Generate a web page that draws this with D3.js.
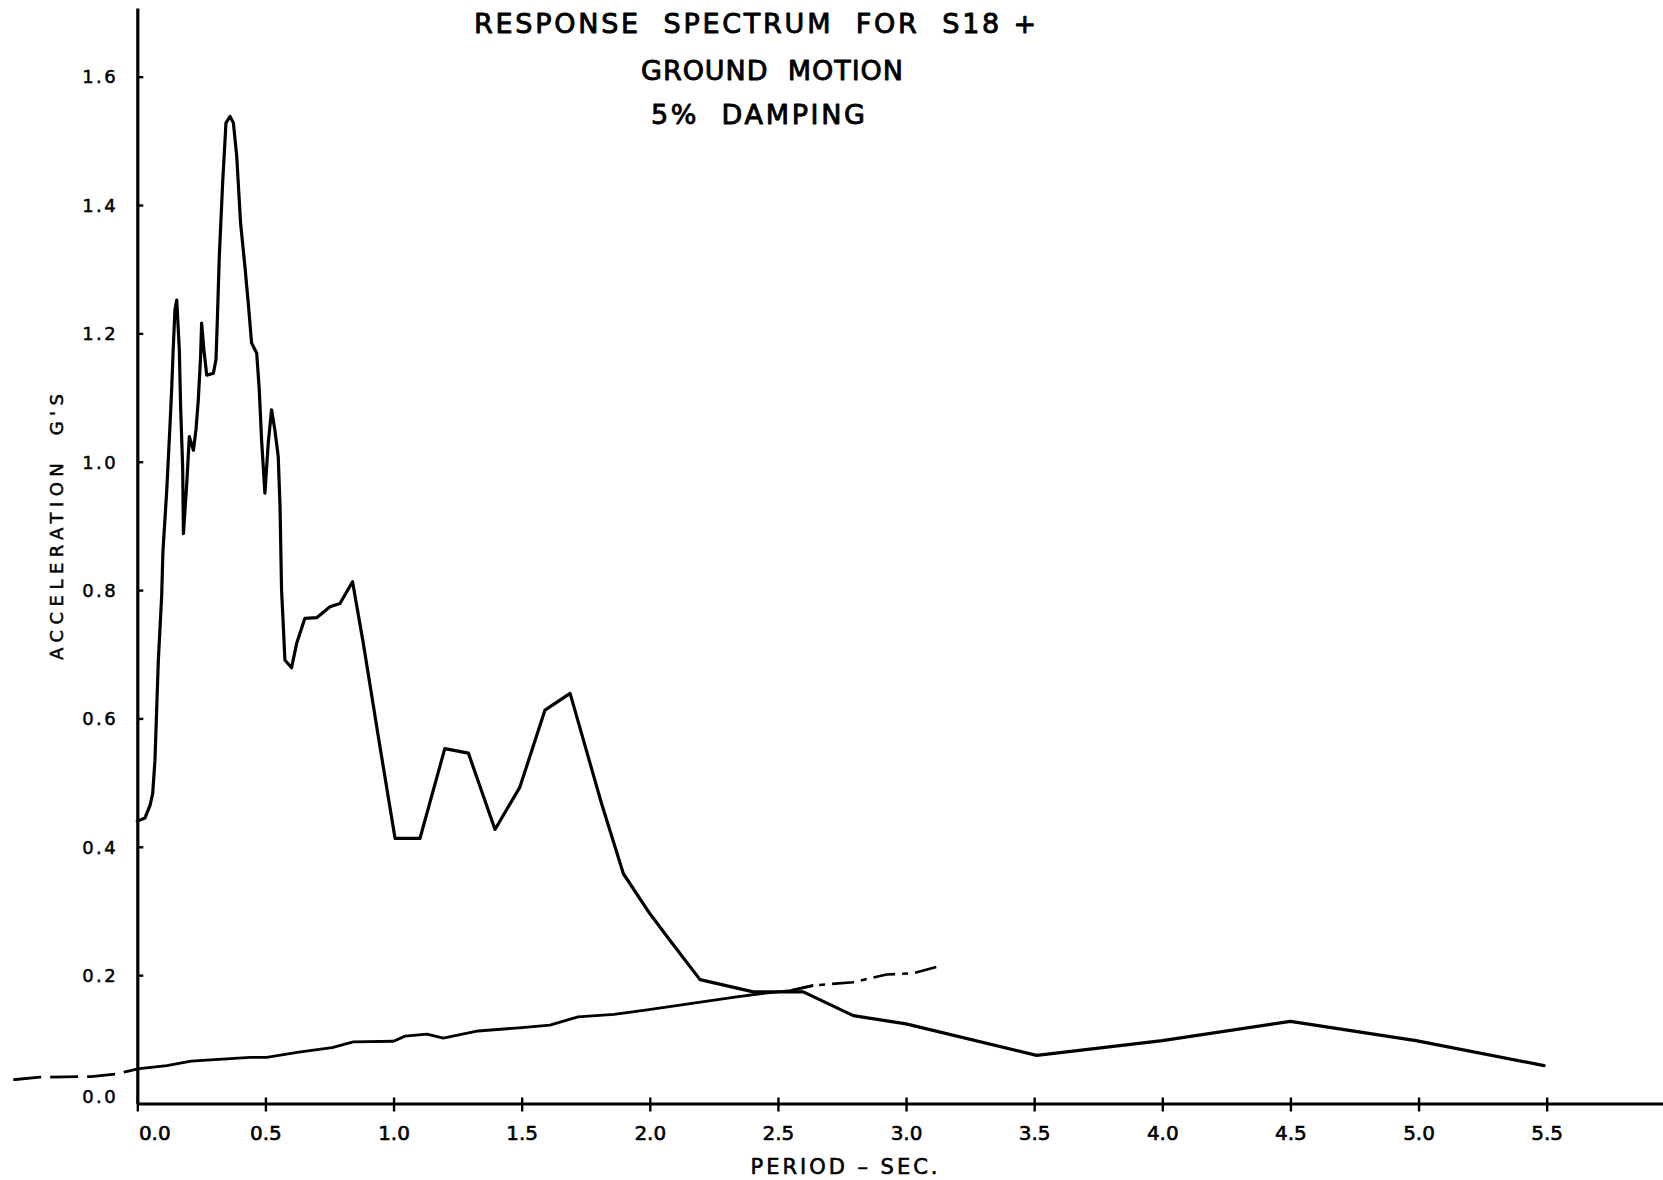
<!DOCTYPE html>
<html>
<head>
<meta charset="utf-8">
<script src="https://cdn.jsdelivr.net/npm/d3@7"></script>
<style>
  html, body { margin: 0; padding: 0; background: #fff; }
  svg { display: block; }
  text { font-family: "DejaVu Sans", "Liberation Sans", sans-serif; fill: #000; white-space: pre; }
</style>
</head>
<body>
<svg id="chart" width="1663" height="1180"></svg>
<script>
// Titles and axis captions
const titleLines = ["RESPONSE  SPECTRUM  FOR  S18 +", "GROUND  MOTION", "5%  DAMPING"];
const xAxisTitle = "PERIOD \u2013 SEC.";
const yAxisTitle = "ACCELERATION  G'S";

// Tick values and their printed labels
const xTickValues = [0, 0.5, 1.0, 1.5, 2.0, 2.5, 3.0, 3.5, 4.0, 4.5, 5.0, 5.5];
const xTickLabels = ["0.0", "0.5", "1.0", "1.5", "2.0", "2.5", "3.0", "3.5", "4.0", "4.5", "5.0", "5.5"];
const yTickValues = [0, 0.2, 0.4, 0.6, 0.8, 1.0, 1.2, 1.4, 1.6];
const yTickLabels = ["0.0", "0.2", "0.4", "0.6", "0.8", "1.0", "1.2", "1.4", "1.6"];

// Response spectrum, 5% damping: period (sec) and spectral acceleration (g)
const spectrumPeriod = [0.00, 0.03, 0.05, 0.06, 0.069, 0.082, 0.095, 0.10, 0.115, 0.128, 0.134, 0.14, 0.147, 0.154,
  0.164, 0.169, 0.177, 0.18, 0.193, 0.203, 0.219, 0.229, 0.238, 0.247, 0.251, 0.26, 0.271, 0.297, 0.307, 0.312,
  0.32, 0.333, 0.346, 0.362, 0.375, 0.388, 0.403, 0.42, 0.433, 0.446, 0.466, 0.476, 0.485, 0.498, 0.511, 0.524,
  0.537, 0.55, 0.557, 0.563, 0.57, 0.576, 0.602, 0.622, 0.654, 0.70, 0.752, 0.791, 0.84, 0.882, 0.947, 1.006,
  1.103, 1.20, 1.292, 1.396, 1.493, 1.591, 1.689, 1.812, 1.897, 2.0, 2.079, 2.196, 2.404, 2.599, 2.794, 3.0,
  3.51, 4.0, 4.5, 4.99, 5.49];
const spectrumAccel = [0.44, 0.445, 0.465, 0.483, 0.535, 0.69, 0.79, 0.86, 0.956, 1.06, 1.112, 1.174, 1.237, 1.252,
  1.174, 1.086, 0.992, 0.888, 0.966, 1.039, 1.018, 1.05, 1.096, 1.164, 1.216, 1.174, 1.135, 1.138, 1.159, 1.216,
  1.32, 1.434, 1.528, 1.538, 1.528, 1.476, 1.372, 1.304, 1.247, 1.185, 1.169, 1.112, 1.034, 0.951, 1.029, 1.081,
  1.049, 1.008, 0.93, 0.80, 0.743, 0.691, 0.679, 0.717, 0.756, 0.757, 0.774, 0.779, 0.813, 0.717, 0.556, 0.413,
  0.413, 0.553, 0.546, 0.427, 0.493, 0.613, 0.639, 0.467, 0.358, 0.296, 0.254, 0.193, 0.174, 0.174, 0.137, 0.124,
  0.075, 0.098, 0.128, 0.098, 0.059];

// Second trace rising slowly across the period range
const groundPeriod = [0.00, 0.115, 0.21, 0.44, 0.505, 0.63, 0.76, 0.843, 1.00, 1.045, 1.13, 1.194, 1.33, 1.49,
  1.61, 1.72, 1.86, 1.99, 2.144, 2.339, 2.45, 2.55, 2.638, 2.794, 2.924, 3.028, 3.12];
const groundAccel = [0.054, 0.059, 0.066, 0.072, 0.072, 0.080, 0.087, 0.096, 0.097, 0.105, 0.108, 0.102, 0.113, 0.118,
  0.122, 0.135, 0.139, 0.146, 0.155, 0.166, 0.172, 0.176, 0.184, 0.189, 0.201, 0.203, 0.213];
const groundDashedFrom = 2.6;

// Broken lead-in of the same trace, left of the vertical axis
const leadPeriod = [-0.484, -0.38, -0.18, -0.08, -0.03, 0.0];
const leadAccel = [0.037, 0.041, 0.042, 0.046, 0.051, 0.054];

const svg = d3.select("#chart");
const W = 1663, H = 1180;
svg.append("rect").attr("width", W).attr("height", H).attr("fill", "#fff");

const x = d3.scaleLinear().domain([0, 5.954]).range([137.3, 1663]);
const y = d3.scaleLinear().domain([0, 1.707]).range([1103.5, 8]);

const ink = "#000";

// Plotter-style lettering: regular glyphs with a thin outline to thicken strokes
function pen(sel, w) {
  return sel.attr("stroke", ink).attr("stroke-width", w).attr("stroke-linejoin", "round");
}

// Axes: long plotter lines with small crossing ticks
const gx = svg.append("g").attr("transform", `translate(0,${y(0)})`);
gx.call(d3.axisBottom(x).tickValues(xTickValues).tickFormat((d, i) => xTickLabels[i])
  .tickSizeInner(8).tickSizeOuter(0).tickPadding(14));
gx.select(".domain").attr("stroke", ink).attr("stroke-width", 3.2);
gx.selectAll(".tick line").attr("stroke", ink).attr("stroke-width", 2.4).attr("y1", -6);
pen(gx.selectAll(".tick text")
  .attr("font-size", 20).attr("font-family", "DejaVu Sans").attr("fill", ink)
  .attr("dy", "0.71em")
  .attr("dx", (d, i) => i === 0 ? 17 : 0), 0.6);

const gy = svg.append("g").attr("transform", `translate(${x(0)},0)`);
gy.call(d3.axisLeft(y).tickValues(yTickValues).tickFormat((d, i) => yTickLabels[i])
  .tickSizeInner(7).tickSizeOuter(0).tickPadding(12));
gy.select(".domain").attr("stroke", ink).attr("stroke-width", 3.2);
gy.selectAll(".tick line").attr("stroke", ink).attr("stroke-width", 2.4).attr("x2", 6);
pen(gy.selectAll(".tick text")
  .attr("font-size", 18).attr("font-family", "DejaVu Sans").attr("fill", ink)
  .attr("letter-spacing", 2.5)
  .attr("dy", (d) => d === 0 ? "-0.05em" : "0.35em"), 0.5);
gy.selectAll(".tick").filter(d => d === 0).select("line").remove();

// Curves
const line = d3.line().x(d => x(d[0])).y(d => y(d[1]));

const spectrum = spectrumPeriod.map((p, i) => [p, spectrumAccel[i]]);
svg.append("path").attr("d", line(spectrum))
  .attr("fill", "none").attr("stroke", ink).attr("stroke-width", 3.2)
  .attr("stroke-linejoin", "round").attr("stroke-linecap", "round");

const ground = groundPeriod.map((p, i) => [p, groundAccel[i]]);
const groundSolid = ground.filter(d => d[0] <= groundDashedFrom + 0.05);
const groundDash = ground.filter(d => d[0] >= groundDashedFrom - 0.06);
svg.append("path").attr("d", line(groundSolid))
  .attr("fill", "none").attr("stroke", ink).attr("stroke-width", 2.8)
  .attr("stroke-linejoin", "round");
svg.append("path").attr("d", line(groundDash))
  .attr("fill", "none").attr("stroke", ink).attr("stroke-width", 2.6)
  .attr("stroke-dasharray", "22 7 6 7");

const lead = leadPeriod.map((p, i) => [p, leadAccel[i]]);
svg.append("path").attr("d", line(lead))
  .attr("fill", "none").attr("stroke", ink).attr("stroke-width", 2.8)
  .attr("stroke-dasharray", "28 9");

// Title block
const titleLayout = [
  { cx: 755, base: 33, len: 562 },
  { cx: 772, base: 80, len: 262 },
  { cx: 758, base: 124, len: 214 }
];
titleLines.forEach((t, i) => {
  const L = titleLayout[i];
  pen(svg.append("text").text(t)
    .attr("x", L.cx).attr("y", L.base)
    .attr("text-anchor", "middle")
    .attr("font-size", 27)
    .attr("textLength", L.len).attr("lengthAdjust", "spacing"), 0.9);
});

// Axis captions
pen(svg.append("text").text(xAxisTitle)
  .attr("x", 844).attr("y", 1174)
  .attr("text-anchor", "middle").attr("font-size", 21)
  .attr("textLength", 187).attr("lengthAdjust", "spacing"), 0.6);

pen(svg.append("text").text(yAxisTitle)
  .attr("transform", "translate(63,527) rotate(-90)")
  .attr("text-anchor", "middle").attr("font-size", 18)
  .attr("textLength", 266).attr("lengthAdjust", "spacing"), 0.5);
</script>
</body>
</html>
